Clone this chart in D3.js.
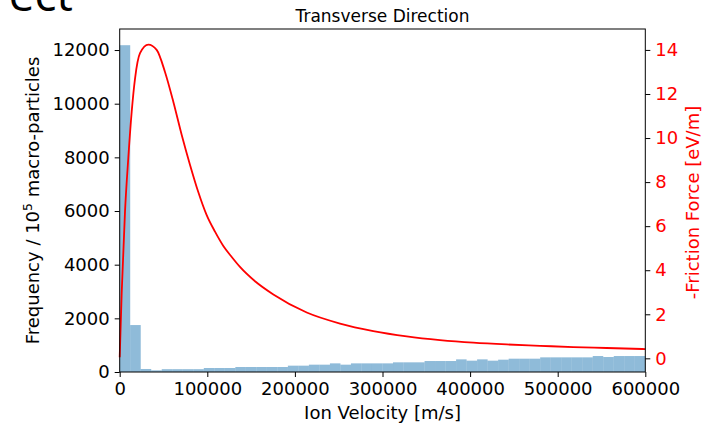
<!DOCTYPE html>
<html>
<head>
<meta charset="utf-8">
<script src="https://cdn.jsdelivr.net/npm/d3@7"></script>
<style>
  body { margin: 0; background: #fff; }
  svg text { font-family: "DejaVu Sans", sans-serif; }
</style>
</head>
<body>
<div id="graph"></div>
<script>
// histogram: counts per 12000 m/s bin, 0..600000
var binWidth = 12000;
var counts = [12180, 1750, 112, 62, 105, 105, 105, 105, 149, 149,
              149, 186, 186, 186, 186, 186, 236, 236, 273, 273,
              322, 273, 322, 322, 322, 322, 360, 360, 360, 409,
              409, 409, 471, 422, 471, 422, 459, 496, 496, 496,
              546, 546, 546, 546, 546, 595, 558, 595, 595, 595];

// friction force curve
var velocity = [0, 2300, 6050, 9800, 13700, 17500, 23200, 32700, 42200, 51700,
                61200, 70800, 80300, 89700, 99300, 108800, 118300, 127900, 137300, 154500,
                175400, 213500, 251500, 289500, 327600, 365600, 403700, 441800, 479800, 517800,
                555900, 600000];
var force = [0.05, 3.0, 6.66, 9.08, 11.2, 12.7, 13.85, 14.24, 14.0, 13.0,
             11.65, 10.14, 8.78, 7.55, 6.5, 5.75, 5.1, 4.6, 4.15, 3.5,
             2.9, 2.08, 1.58, 1.24, 1.0, 0.83, 0.71, 0.63, 0.57, 0.51,
             0.47, 0.42];

var xTicks = [0, 100000, 200000, 300000, 400000, 500000, 600000];
var yTicks = [0, 2000, 4000, 6000, 8000, 10000, 12000];
var y2Ticks = [0, 2, 4, 6, 8, 10, 12, 14];

var W = 708, H = 425;
var pLeft = 119.7, pRight = 645.3, pTop = 29, pBottom = 372;

var svg = d3.select("#graph").append("svg")
  .attr("width", W)
  .attr("height", H);

var x = d3.scaleLinear().domain([0, 600000]).range([pLeft, pRight]);
var y = d3.scaleLinear().domain([0, 12784]).range([pBottom, pTop]);
var y2 = d3.scaleLinear().domain([-0.62, 14.95]).range([pBottom, pTop]);

// slide title remnant
svg.append("text")
  .attr("x", 73).attr("y", 11)
  .attr("text-anchor", "end")
  .style("font-family", "'Open Sans', sans-serif")
  .style("font-size", "46px")
  .attr("fill", "#000")
  .text("ect");

// bars
svg.append("g").selectAll("rect")
  .data(counts)
  .enter().append("rect")
  .attr("x", function(d, i) { return x(i * binWidth); })
  .attr("width", function(d, i) { return x((i + 1) * binWidth) - x(i * binWidth); })
  .attr("y", function(d) { return y(d); })
  .attr("height", function(d) { return pBottom - y(d); })
  .attr("fill", "#1f77b4")
  .attr("fill-opacity", 0.5);

// friction curve
var pts = velocity.map(function(v, i) { return [v, force[i]]; });
var line = d3.line()
  .x(function(d) { return x(d[0]); })
  .y(function(d) { return y2(d[1]); })
  .curve(d3.curveMonotoneX);
svg.append("path")
  .datum(pts)
  .attr("d", line)
  .attr("fill", "none")
  .attr("stroke", "#ff0000")
  .attr("stroke-width", 1.8);

// axes
var fs = "18px";
var gx = svg.append("g")
  .attr("transform", "translate(0," + pBottom + ")")
  .call(d3.axisBottom(x).tickValues(xTicks).tickFormat(d3.format("d")).tickSizeOuter(0).tickSize(5).tickPadding(5));
var gy = svg.append("g")
  .attr("transform", "translate(" + pLeft + ",0)")
  .call(d3.axisLeft(y).tickValues(yTicks).tickFormat(d3.format("d")).tickSizeOuter(0).tickSize(5).tickPadding(5));
var gy2 = svg.append("g")
  .attr("transform", "translate(" + pRight + ",0)")
  .call(d3.axisRight(y2).tickValues(y2Ticks).tickSizeOuter(0).tickSize(5).tickPadding(5));

[gx, gy, gy2].forEach(function(g) {
  g.select(".domain").remove();
  g.selectAll("text").style("font-size", fs).style("font-family", "'DejaVu Sans', sans-serif");
  g.selectAll("line").attr("stroke", "#000");
});
gx.selectAll("text").attr("fill", "#000");
gy.selectAll("text").attr("fill", "#000");
gy2.selectAll("text").attr("fill", "#ff0000");

// frame
svg.append("rect")
  .attr("x", pLeft).attr("y", pTop)
  .attr("width", pRight - pLeft).attr("height", pBottom - pTop)
  .attr("fill", "none")
  .attr("stroke", "#000")
  .attr("stroke-width", 1);

// labels
svg.append("text")
  .attr("x", (pLeft + pRight) / 2).attr("y", 21.5)
  .attr("text-anchor", "middle")
  .style("font-size", "17px")
  .text("Transverse Direction");

svg.append("text")
  .attr("x", (pLeft + pRight) / 2).attr("y", 418.5)
  .attr("text-anchor", "middle")
  .style("font-size", fs)
  .text("Ion Velocity [m/s]");

var yl = svg.append("text")
  .attr("transform", "translate(38.5," + (pTop + pBottom) / 2 + ") rotate(-90)")
  .attr("text-anchor", "middle")
  .style("font-size", fs);
yl.append("tspan").text("Frequency / 10");
yl.append("tspan").attr("dy", -7).style("font-size", "12.5px").text("5");
yl.append("tspan").attr("dy", 7).text(" macro-particles");

svg.append("text")
  .attr("transform", "translate(698.5,202.5) rotate(-90)")
  .attr("text-anchor", "middle")
  .attr("fill", "#ff0000")
  .style("font-size", fs)
  .text("-Friction Force [eV/m]");
</script>
</body>
</html>
